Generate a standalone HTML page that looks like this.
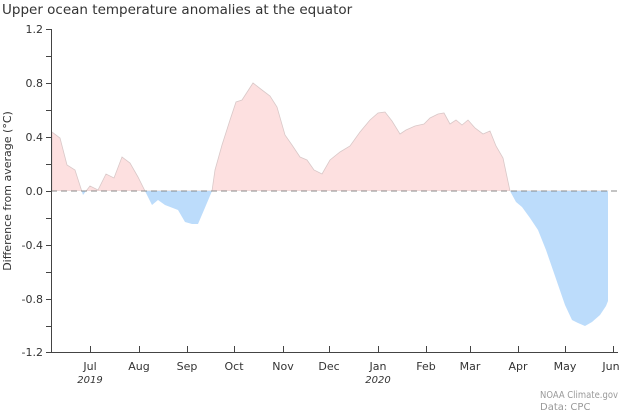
<!DOCTYPE html><html><head><meta charset="utf-8"><style>
body{margin:0;background:#fff;width:620px;height:413px;overflow:hidden;font-family:"DejaVu Sans","Liberation Sans",sans-serif}
svg text{fill:#333}
</style></head><body>
<svg width="620" height="413" xmlns="http://www.w3.org/2000/svg">
<defs>
<clipPath id="up"><rect x="51" y="0" width="570" height="191"/></clipPath>
<clipPath id="dn"><rect x="51" y="191" width="570" height="200"/></clipPath>
</defs>
<text x="2" y="14" font-size="13.5" style="fill:#333">Upper ocean temperature anomalies at the equator</text>
<polygon clip-path="url(#up)" fill="#fde0e0" stroke="#d9c8c8" stroke-width="0.8" points="52,191 52,132 60,138 67,165 75,170 83,195 90,186 98,190 106,174 114,178 122,157 130,163 138,177 145,191 152,205 158,200 165,205 178,210 185,222 192,224 198,224 204,210 212,191 215,170 222,145 230,120 236,102 242,100 253,83 262,90 270,96 277,107 285,135 292,145 300,157 307,160 314,170 322,174 330,160 340,152 350,146 360,132 370,120 378,113 385,112 392,121 400,134 406,130 415,126 424,124 430,118 438,114 444,113 450,124 456,120 462,125 468,120 475,128 483,134 490,131 496,146 503,158 510,191 516,202 522,207 530,218 538,230 546,250 555,276 565,305 572,320 578,323 585,326 592,322 600,315 606,306 608,301 608,191"/>
<polygon clip-path="url(#dn)" fill="#bcdcfb" points="52,191 52,132 60,138 67,165 75,170 83,195 90,186 98,190 106,174 114,178 122,157 130,163 138,177 145,191 152,205 158,200 165,205 178,210 185,222 192,224 198,224 204,210 212,191 215,170 222,145 230,120 236,102 242,100 253,83 262,90 270,96 277,107 285,135 292,145 300,157 307,160 314,170 322,174 330,160 340,152 350,146 360,132 370,120 378,113 385,112 392,121 400,134 406,130 415,126 424,124 430,118 438,114 444,113 450,124 456,120 462,125 468,120 475,128 483,134 490,131 496,146 503,158 510,191 516,202 522,207 530,218 538,230 546,250 555,276 565,305 572,320 578,323 585,326 592,322 600,315 606,306 608,301 608,191"/>
<line x1="51" y1="191" x2="617" y2="191" stroke="#888" stroke-dasharray="6,4" stroke-width="1"/>
<g stroke="#444" stroke-width="1">
<line x1="51.5" y1="29" x2="51.5" y2="352"/>
<line x1="51" y1="352.5" x2="618" y2="352.5"/>
<line x1="46" y1="29.5" x2="51" y2="29.5"/><line x1="46" y1="56.5" x2="51" y2="56.5"/><line x1="46" y1="83.5" x2="51" y2="83.5"/><line x1="46" y1="110.5" x2="51" y2="110.5"/><line x1="46" y1="137.5" x2="51" y2="137.5"/><line x1="46" y1="164.5" x2="51" y2="164.5"/><line x1="46" y1="191.5" x2="51" y2="191.5"/><line x1="46" y1="218.5" x2="51" y2="218.5"/><line x1="46" y1="245.5" x2="51" y2="245.5"/><line x1="46" y1="272.5" x2="51" y2="272.5"/><line x1="46" y1="299.5" x2="51" y2="299.5"/><line x1="46" y1="326.5" x2="51" y2="326.5"/><line x1="46" y1="352.5" x2="51" y2="352.5"/>
<line x1="90.5" y1="346" x2="90.5" y2="352"/><line x1="139.5" y1="346" x2="139.5" y2="352"/><line x1="187.5" y1="346" x2="187.5" y2="352"/><line x1="234.5" y1="346" x2="234.5" y2="352"/><line x1="283.5" y1="346" x2="283.5" y2="352"/><line x1="329.5" y1="346" x2="329.5" y2="352"/><line x1="378.5" y1="346" x2="378.5" y2="352"/><line x1="426.5" y1="346" x2="426.5" y2="352"/><line x1="470.5" y1="346" x2="470.5" y2="352"/><line x1="518.5" y1="346" x2="518.5" y2="352"/><line x1="565.5" y1="346" x2="565.5" y2="352"/><line x1="613.5" y1="346" x2="613.5" y2="352"/>
</g>
<g font-size="11" text-anchor="end">
<text x="43" y="33">1.2</text><text x="43" y="87">0.8</text><text x="43" y="141">0.4</text><text x="43" y="195">0.0</text><text x="43" y="249">-0.4</text><text x="43" y="303">-0.8</text><text x="43" y="356">-1.2</text>
</g>
<g font-size="11" text-anchor="middle">
<text x="90" y="370">Jul</text><text x="139" y="370">Aug</text><text x="187" y="370">Sep</text><text x="234" y="370">Oct</text><text x="283" y="370">Nov</text><text x="329" y="370">Dec</text><text x="378" y="370">Jan</text><text x="426" y="370">Feb</text><text x="470" y="370">Mar</text><text x="518" y="370">Apr</text><text x="565" y="370">May</text><text x="611" y="370">Jun</text>
<text x="90" y="383" font-style="italic" font-size="10">2019</text><text x="378" y="383" font-style="italic" font-size="10">2020</text>
</g>
<text transform="translate(11,191) rotate(-90)" font-size="11" text-anchor="middle">Difference from average (°C)</text>
<text x="540" y="398" font-size="10" textLength="78" lengthAdjust="spacingAndGlyphs" style="fill:#999">NOAA Climate.gov</text>
<text x="540" y="410" font-size="10" style="fill:#999">Data: CPC</text>
</svg>
</body></html>
